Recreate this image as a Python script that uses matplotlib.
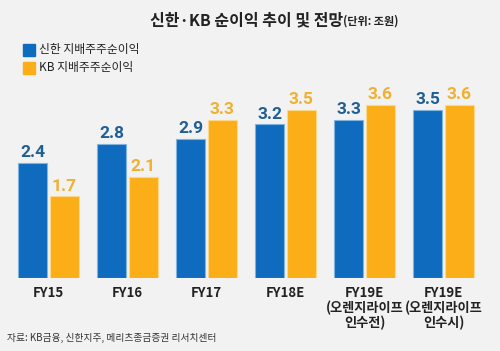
import numpy as np
import matplotlib.pyplot as plt

plt.rcParams['font.family'] = ['Noto Sans CJK KR', 'DejaVu Sans']

categories = ['FY15', 'FY16', 'FY17', 'FY18E', 'FY19E\n(오렌지라이프\n인수전)', 'FY19E\n(오렌지라이프\n인수시)']
shinhan = [2.4, 2.8, 2.9, 3.2, 3.3, 3.5]
kb = [1.7, 2.1, 3.3, 3.5, 3.6, 3.6]
series_names = ['신한 지배주주순이익', 'KB 지배주주순이익']

blue = '#0f6bbd'
orange = '#fbae17'
bg = '#f2f2f2'

fig = plt.figure(figsize=(5, 3.51), dpi=100, facecolor=bg)
ax = fig.add_axes([0, 73 / 351, 1, 198 / 351])
ax.set_facecolor(bg)

x = np.arange(len(categories))
w = 0.37
off = 0.2
ax.bar(x - off, shinhan, w, color=blue, edgecolor='#7fb3e0', linewidth=0.8)
ax.bar(x + off, kb, w, color=orange, edgecolor='#fcd98a', linewidth=0.8)

# value labels
for xi, v in zip(x, shinhan):
    ax.text(xi - off, v + 0.06, f'{v:.1f}', ha='center', va='bottom',
            fontsize=12.5, fontweight='bold', color='#1f5f95', family='Roboto')
for xi, v in zip(x, kb):
    ax.text(xi + off, v + 0.06, f'{v:.1f}', ha='center', va='bottom',
            fontsize=12.5, fontweight='bold', color='#f0b030', family='Roboto')

ax.set_xlim(-48.5 / 79, (500 - 48.5) / 79)
ax.set_ylim(0, 198 / 48)
ax.set_xticks(x)
ax.set_xticklabels(categories, fontsize=9.5, fontweight='bold', color='#222222',
                   linespacing=1.05)
ax.tick_params(axis='x', length=0, pad=6)
ax.set_yticks([])
for s in ax.spines.values():
    s.set_visible(False)

# title
fig.text(343 / 500, 1 - 20 / 351, '신한·KB 순이익 추이 및 전망', ha='right', va='center',
         fontsize=11.5, fontweight='bold', color='#222222')
fig.text(343 / 500, 1 - 21 / 351, '(단위: 조원)', ha='left', va='center',
         fontsize=8, fontweight='bold', color='#222222')

# legend
for i, (name, c) in enumerate(zip(series_names, [blue, orange])):
    yc = 1 - (50 + 18 * i) / 351
    fig.patches.append(plt.Rectangle((23 / 500, yc - 6 / 351), 12 / 500, 12 / 351,
                                     transform=fig.transFigure, color=c))
    fig.text(39 / 500, yc, name, ha='left', va='center', fontsize=8.5,
             color='#222222')

fig.text(7 / 500, 1 - 338 / 351, '자료: KB금융, 신한지주, 메리츠종금증권 리서치센터',
         ha='left', va='center', fontsize=7, color='#333333')

fig.savefig('out.png', dpi=100, facecolor=bg)
